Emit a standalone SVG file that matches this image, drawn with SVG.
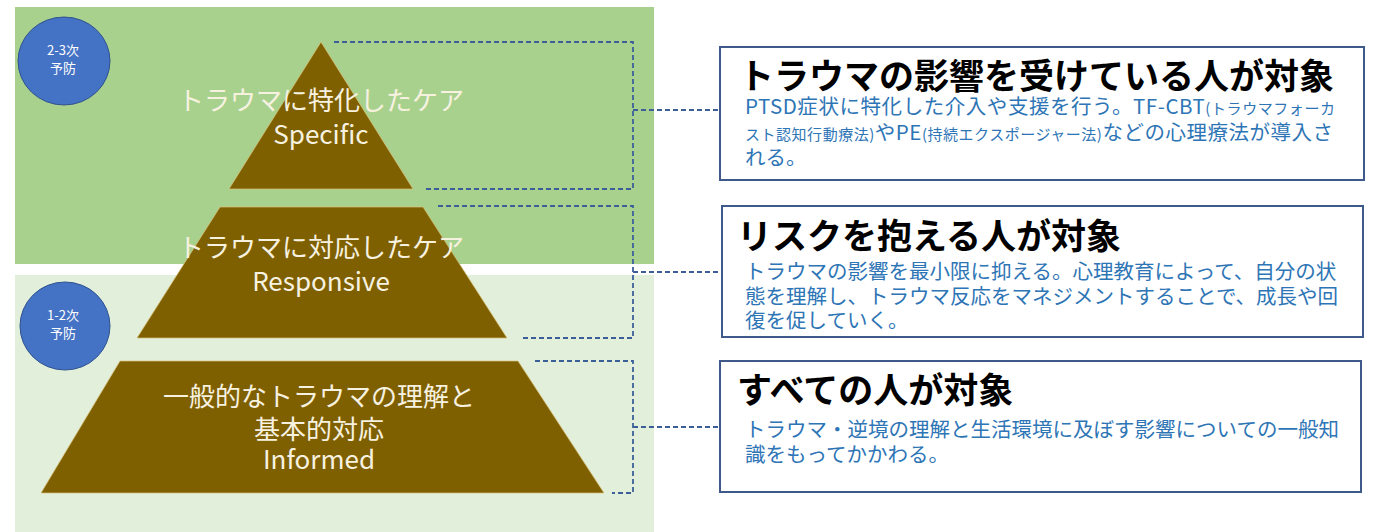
<svg xmlns="http://www.w3.org/2000/svg" width="1373" height="532" viewBox="0 0 1373 532">
<style>
.jp{font-family:"Noto Sans CJK JP","Noto Sans",sans-serif}
.lvl{fill:#7f6000;stroke:#d8c27a;stroke-width:1;stroke-opacity:0.7}
.lbl{fill:#f7f2e0;font-size:26px;text-anchor:middle}
.circ{fill:#4472c4;stroke:#2f528f;stroke-width:1}
.ctx{fill:#ffffff;font-size:13px;text-anchor:middle}
.box{fill:#ffffff;stroke:#3f5a8a;stroke-width:2}
.ttl{fill:#000000;font-size:35px;font-weight:bold}
.body{fill:#2e75b6;font-size:20.5px}
.sm{font-size:15px}
.dash{fill:none;stroke:#3d5f99;stroke-width:1.8;stroke-dasharray:5 3}
</style>
<rect width="1373" height="532" fill="#ffffff"/>
<g id="panels">
<rect x="15" y="7" width="639" height="257" fill="#a9d18e"/>
<rect x="15" y="275" width="639" height="257" fill="#e2efda"/>
</g>
<g id="prevention-23">
<ellipse class="circ" cx="64" cy="61" rx="46" ry="44"/>
<text class="jp ctx" x="63" y="55">2-3次</text>
<text class="jp ctx" x="63" y="73">予防</text>
</g>
<g id="prevention-12">
<ellipse class="circ" cx="65" cy="326" rx="45" ry="44"/>
<text class="jp ctx" x="63" y="320">1-2次</text>
<text class="jp ctx" x="63" y="338">予防</text>
</g>
<g id="connectors">
<path class="dash" d="M334,42 H633 V189 H425"/>
<path class="dash" d="M633,110 H720"/>
<path class="dash" d="M438,206 H633 V338 H521"/>
<path class="dash" d="M633,272 H722"/>
<path class="dash" d="M535,361 H633 V493 H612"/>
<path class="dash" d="M633,427 H720"/>
</g>
<g id="level-specific">
<polygon class="lvl" points="321,42 413,189 229,189"/>
</g>
<g id="level-responsive">
<polygon class="lvl" points="220,207 423,207 507,338 137,338"/>
</g>
<g id="level-informed">
<polygon class="lvl" points="120,361 518,361 604,493 41,493"/>
</g>
<g id="labels">
<text class="jp lbl" x="321" y="110">トラウマに特化したケア</text>
<text class="jp lbl" x="321" y="144">Specific</text>
<text class="jp lbl" x="321" y="257">トラウマに対応したケア</text>
<text class="jp lbl" x="321" y="291">Responsive</text>
<text class="jp lbl" x="319" y="406">一般的なトラウマの理解と</text>
<text class="jp lbl" x="319" y="439">基本的対応</text>
<text class="jp lbl" x="319" y="469">Informed</text>
</g>
<g id="box-specific">
<rect class="box" x="720" y="47" width="644" height="133"/>
<text class="jp ttl" x="739" y="89">トラウマの影響を受けている人が対象</text>
<text class="jp body" x="745" y="114" textLength="590" lengthAdjust="spacing">PTSD症状に特化した介入や支援を行う。TF-CBT<tspan class="sm">(トラウマフォーカ</tspan></text>
<text class="jp body" x="745" y="140" textLength="588" lengthAdjust="spacing"><tspan class="sm">スト認知行動療法)</tspan>やPE<tspan class="sm">(持続エクスポージャー法)</tspan>などの心理療法が導入さ</text>
<text class="jp body" x="745" y="165">れる。</text>
</g>
<g id="box-responsive">
<rect class="box" x="722" y="206" width="641" height="131"/>
<text class="jp ttl" x="737" y="249">リスクを抱える人が対象</text>
<text class="jp body" x="745" y="279">トラウマの影響を最小限に抑える。心理教育によって、自分の状</text>
<text class="jp body" x="745" y="304">態を理解し、トラウマ反応をマネジメントすることで、成長や回</text>
<text class="jp body" x="745" y="328">復を促していく。</text>
</g>
<g id="box-informed">
<rect class="box" x="720" y="361" width="641" height="131"/>
<text class="jp ttl" x="737" y="403">すべての人が対象</text>
<text class="jp body" x="745" y="437">トラウマ・逆境の理解と生活環境に及ぼす影響についての一般知</text>
<text class="jp body" x="745" y="462">識をもってかかわる。</text>
</g>
</svg>
